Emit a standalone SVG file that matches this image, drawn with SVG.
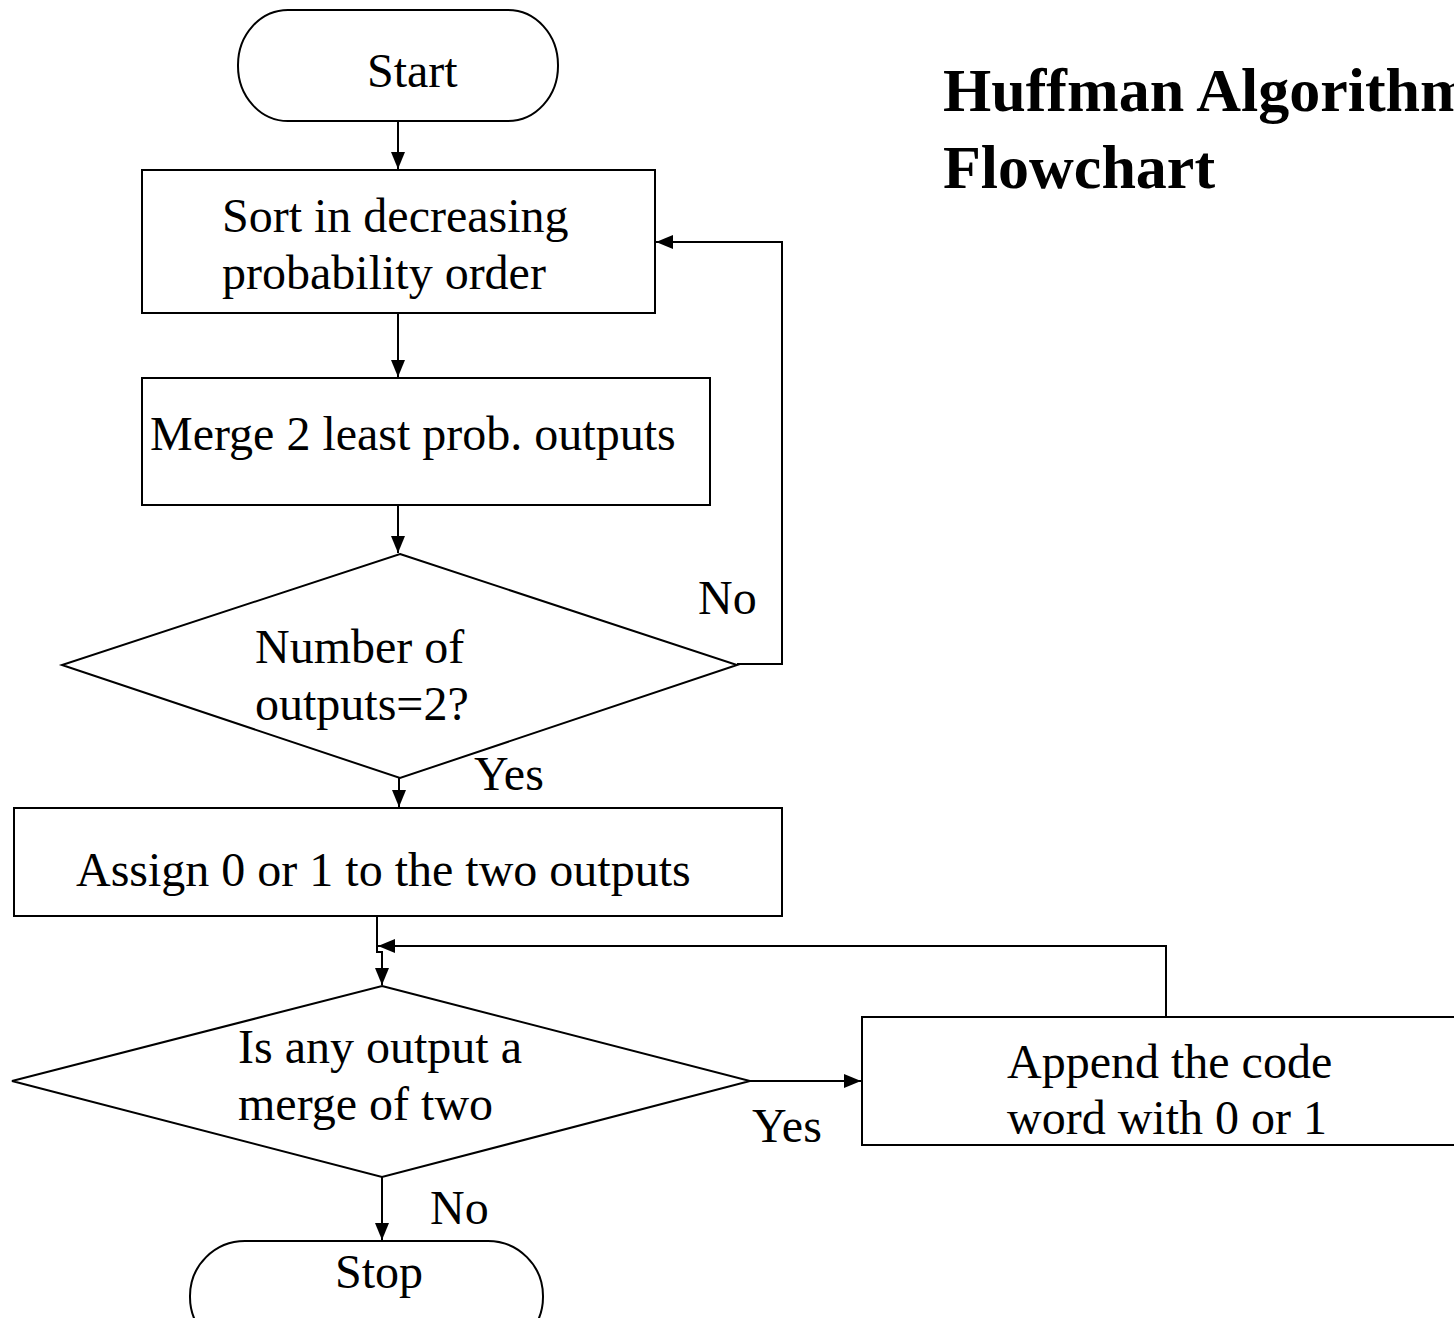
<svg xmlns="http://www.w3.org/2000/svg" width="1454" height="1318" viewBox="0 0 1454 1318">
<style>
.s{fill:#fff;stroke:#000;stroke-width:2}
.c{fill:none;stroke:#000;stroke-width:2}
text{font-family:"Liberation Serif","Times New Roman",serif;font-size:48px;fill:#000}
.t{font-size:62px;font-weight:bold}
</style>
<defs>
<marker id="a" markerWidth="17" markerHeight="14" refX="17" refY="7" orient="auto" markerUnits="userSpaceOnUse">
<path d="M0,0 L17,7 L0,14 Z" fill="#000"/>
</marker>
</defs>
<rect width="1454" height="1318" fill="#fff"/>
<g id="title">
<text class="t" x="943" y="111">Huffman Algorithm</text>
<text class="t" x="943" y="188">Flowchart</text>
</g>
<g id="connectors">
<path class="c" d="M398,121 V169" marker-end="url(#a)"/>
<path class="c" d="M398,313 V377" marker-end="url(#a)"/>
<path class="c" d="M398,505 V553" marker-end="url(#a)"/>
<path class="c" d="M737,664 H782 V242 H656" marker-end="url(#a)"/>
<path class="c" d="M399,778 V807" marker-end="url(#a)"/>
<path class="c" d="M377,916 V952 H382 V985" marker-end="url(#a)"/>
<path class="c" d="M1166,1017 V946 H378" marker-end="url(#a)"/>
<path class="c" d="M750,1081 H861" marker-end="url(#a)"/>
<path class="c" d="M382,1177 V1240" marker-end="url(#a)"/>
<text x="698" y="614">No</text>
<text x="474" y="790">Yes</text>
<text x="752" y="1142">Yes</text>
<text x="430" y="1224">No</text>
</g>
<g id="start">
<rect class="s" x="238" y="10" width="320" height="111" rx="50" ry="55"/>
<text x="367" y="87">Start</text>
</g>
<g id="sort">
<rect class="s" x="142" y="170" width="513" height="143"/>
<text x="222" y="232">Sort in decreasing</text>
<text x="222" y="289">probability order</text>
</g>
<g id="merge">
<rect class="s" x="142" y="378" width="568" height="127"/>
<text x="150" y="450">Merge 2 least prob. outputs</text>
</g>
<g id="check2">
<polygon class="s" points="400,554 737,665 400,778 62,665"/>
<text x="255" y="663">Number of</text>
<text x="255" y="720">outputs=2?</text>
</g>
<g id="assign">
<rect class="s" x="14" y="808" width="768" height="108"/>
<text x="76" y="886">Assign 0 or 1 to the two outputs</text>
</g>
<g id="anymerge">
<polygon class="s" points="382,986 750,1081 382,1177 12,1081"/>
<text x="238" y="1063">Is any output a</text>
<text x="238" y="1120">merge of two</text>
</g>
<g id="append">
<rect class="s" x="862" y="1017" width="640" height="128"/>
<text x="1007" y="1078">Append the code</text>
<text x="1007" y="1134">word with 0 or 1</text>
</g>
<g id="stop">
<rect class="s" x="190" y="1241" width="353" height="111" rx="55" ry="55"/>
<text x="335" y="1288">Stop</text>
</g>
</svg>
